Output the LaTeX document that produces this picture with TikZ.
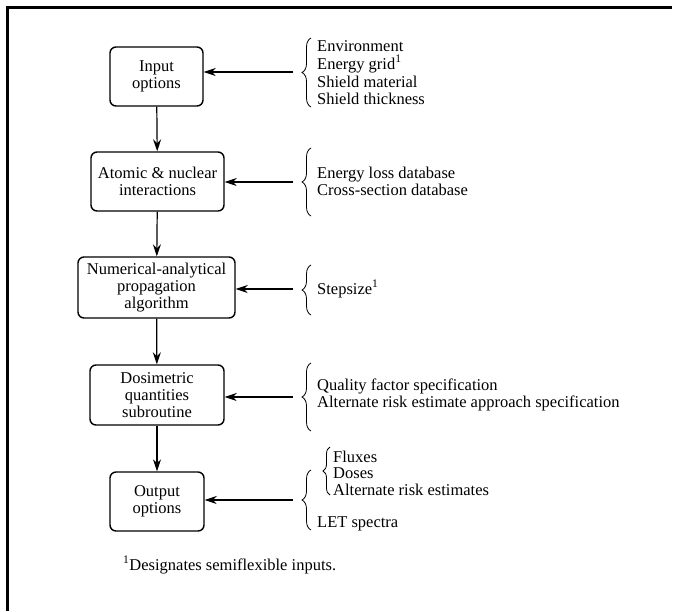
\documentclass[tikz,border=0pt]{standalone}
\usepackage{fontspec}
\setmainfont{Liberation Serif}
\usepackage{tikz}
\usetikzlibrary{arrows.meta,positioning,decorations.pathreplacing}

\begin{document}
\begin{tikzpicture}[x=1pt, y=-1pt,
      stage/.style={draw, rounded corners=6pt, line width=1.4pt,
                  minimum height=59pt, inner sep=2pt,
                  font=\fontsize{16.5}{17}\selectfont, align=center},
      lst/.style={anchor=west, inner sep=0pt,
                  font=\fontsize{16.5}{16.5}\selectfont, align=left},
      brc/.style={decorate, decoration={brace, amplitude=9pt}, line width=0.8pt},
      sbrc/.style={decorate, decoration={brace, amplitude=7pt}, line width=0.8pt},
      arr/.style={-{Stealth[length=12pt, width=8pt]}, line width=1.2pt}
  ]
    \useasboundingbox (0,0) rectangle (679,611);
    % frame
    \draw[line width=3pt] (7,611) -- (7,7) -- (672,7);
    % stages
    \node[stage, minimum width=93pt]  (inp) at (156.5,76.5) {Input\\ options};
    \node[stage, minimum width=133pt] (atm) at (157.5,181.5) {Atomic \& nuclear\\ interactions};
    \node[stage, minimum width=157pt, minimum height=61pt] (num) at (156.5,287.5) {Numerical-analytical\\ propagation\\ algorithm};
    \node[stage, minimum width=134pt, minimum height=60pt] (dos) at (157,395) {Dosimetric\\ quantities\\ subroutine};
    \node[stage, minimum width=94pt]  (out) at (157,501.5) {Output\\ options};
    \draw[arr] (inp) -- (atm); \draw[arr] (atm) -- (num);
    \draw[arr] (num) -- (dos); \draw[arr] (dos) -- (out);
    % inputs
    \node[lst] (l1) at (317,72.5) {Environment\\[1pt] Energy grid\textsuperscript{1}\\[2pt] Shield material\\ Shield thickness};
    \node[lst] (l2) at (317,181.5) {Energy loss database\\ Cross-section database};
    \node[lst] (l3) at (317,289) {Stepsize\textsuperscript{1}};
    \node[lst] (l4) at (317,395) {Quality factor specification\\ Alternate risk estimate approach specification};
    \node[lst] (l5) at (333,473) {Fluxes\\ Doses\\ Alternate risk estimates};
    \node[lst] (l6) at (317,524) {LET spectra};
    \draw[brc] (311,107) -- (311,38);
    \draw[brc] (311,216) -- (311,148);
    \draw[brc] (311,315) -- (311,265);
    \draw[brc] (311,431) -- (311,363);
    \draw[brc] (311,530) -- (311,470);
    \draw[sbrc] (330,495) -- (330,447);
    \coordinate (s1) at (293,72);  \coordinate (s2) at (293,182);
    \coordinate (s3) at (293,289); \coordinate (s4) at (293,397);
    \coordinate (s5) at (293,500);
    \draw[arr] (s1) -- (s1 -| inp.east);
    \draw[arr] (s2) -- (s2 -| atm.east);
    \draw[arr] (s3) -- (s3 -| num.east);
    \draw[arr] (s4) -- (s4 -| dos.east);
    \draw[arr] (s5) -- (s5 -| out.east);
    % footnote
    \node[lst] (fn) at (123,565) {\textsuperscript{1}Designates semiflexible inputs.};
  \end{tikzpicture}
\end{document}
